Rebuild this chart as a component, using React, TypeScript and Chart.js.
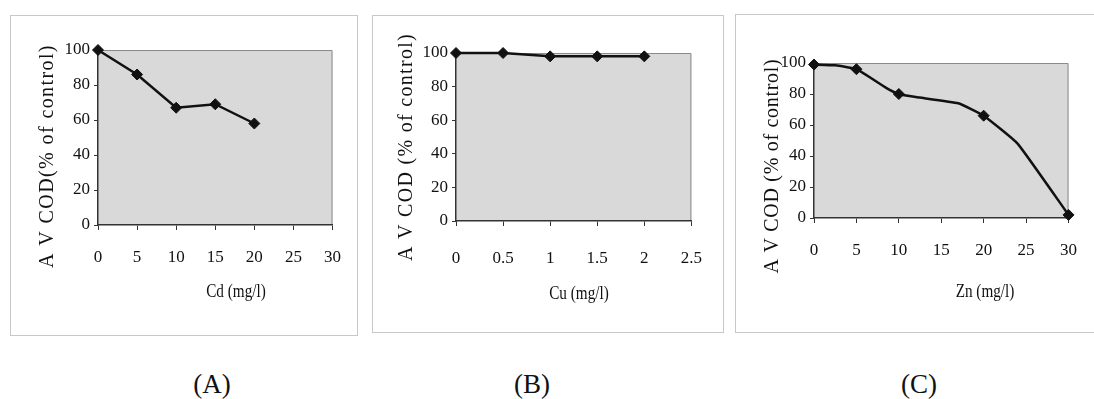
import React, { useEffect, useRef } from "react";
import { Chart, registerables } from "chart.js";

Chart.register(...registerables);

// ---- data ----
const cdDose = [0, 5, 10, 15, 20];
const cdCod = [100, 86, 67, 69, 58];
const cdTicks = [0, 5, 10, 15, 20, 25, 30];

const cuDose = [0, 0.5, 1, 1.5, 2];
const cuCod = [100, 100, 98, 98, 98];
const cuTicks = [0, 0.5, 1, 1.5, 2, 2.5];

const znDose = [0, 5, 10, 20, 30];
const znCod = [99, 96, 80, 66, 2];
// drawn curve of panel C
const znCurveX = [0, 2.5, 5, 8.5, 10, 12, 17, 20, 24, 30];
const znCurveY = [99, 98.5, 96, 84, 80, 78, 74, 66, 48, 2];
const znTicks = [0, 5, 10, 15, 20, 25, 30];

const codTicks = [0, 20, 40, 60, 80, 100];

const captions = ["(A)", "(B)", "(C)"];
const xTitles = ["Cd (mg/l)", "Cu (mg/l)", "Zn (mg/l)"];
const yTitles = ["A V COD(% of control)", "A V COD (% of control)", "A V COD (% of control)"];

const SERIF = "'Liberation Serif', 'Times New Roman', serif";

type PanelSpec = {
  frame: { left: number; top: number; width: number; height: number; noRight?: boolean };
  pad: { top: number; right: number };
  yWidth: number;
  xHeight: number;
  xTickPad: number;
  xMax: number;
  xTicks: number[];
  series: { x: number[]; y: number[]; markers: boolean; line: boolean; tension: number }[];
  xTitle: { text: string; x: number; y: number };
  yTitle: { text: string; x: number; y: number; spacing: number };
};

function toPts(xs: number[], ys: number[]) {
  return xs.map((x, i) => ({ x, y: ys[i] }));
}

function makeDecor(spec: PanelSpec) {
  return {
    id: "panelDecor",
    beforeDraw(chart: any) {
      const { ctx, chartArea: a } = chart;
      ctx.save();
      ctx.fillStyle = "#d9d9d9";
      ctx.fillRect(a.left, a.top, a.right - a.left, a.bottom - a.top);
      ctx.strokeStyle = "#8a8a8a";
      ctx.lineWidth = 1;
      ctx.beginPath();
      ctx.moveTo(a.left, a.top + 0.5);
      ctx.lineTo(a.right - 0.5, a.top + 0.5);
      ctx.lineTo(a.right - 0.5, a.bottom);
      ctx.stroke();
      ctx.restore();
    },
    afterDraw(chart: any) {
      const { ctx } = chart;
      ctx.save();
      ctx.fillStyle = "#111";
      ctx.translate(spec.yTitle.x, spec.yTitle.y);
      ctx.rotate(-Math.PI / 2);
      ctx.font = `20px ${SERIF}`;
      (ctx as any).letterSpacing = `${spec.yTitle.spacing}px`;
      ctx.textAlign = "center";
      ctx.textBaseline = "middle";
      ctx.fillText(spec.yTitle.text, 0, 0);
      ctx.restore();
      ctx.save();
      ctx.fillStyle = "#111";
      ctx.translate(spec.xTitle.x, spec.xTitle.y);
      ctx.scale(0.8, 1);
      ctx.font = `19px ${SERIF}`;
      ctx.textAlign = "center";
      ctx.textBaseline = "middle";
      ctx.fillText(spec.xTitle.text, 0, 0);
      ctx.restore();
    },
  };
}

const panels: PanelSpec[] = [
  {
    frame: { left: 10, top: 15, width: 348, height: 321 },
    pad: { top: 35, right: 25 },
    yWidth: 88,
    xHeight: 111,
    xTickPad: 17,
    xMax: 30,
    xTicks: cdTicks,
    series: [{ x: cdDose, y: cdCod, markers: true, line: true, tension: 0 }],
    xTitle: { text: xTitles[0], x: 226, y: 277 },
    yTitle: { text: yTitles[0], x: 38, y: 141, spacing: 1.4 },
  },
  {
    frame: { left: 372, top: 15, width: 352, height: 318 },
    pad: { top: 38, right: 27 },
    yWidth: 84,
    xHeight: 112,
    xTickPad: 22,
    xMax: 2.5,
    xTicks: cuTicks,
    series: [{ x: cuDose, y: cuCod, markers: true, line: true, tension: 0 }],
    xTitle: { text: xTitles[1], x: 207, y: 279 },
    yTitle: { text: yTitles[1], x: 35, y: 132, spacing: 1.3 },
  },
  {
    frame: { left: 735, top: 14, width: 359, height: 319, noRight: true },
    pad: { top: 49, right: 10 },
    yWidth: 79,
    xHeight: 115,
    xTickPad: 17,
    xMax: 30,
    xTicks: znTicks,
    series: [
      { x: znCurveX, y: znCurveY, markers: false, line: true, tension: 0.12 },
      { x: znDose, y: znCod, markers: true, line: false, tension: 0 },
    ],
    xTitle: { text: xTitles[2], x: 250, y: 278 },
    yTitle: { text: yTitles[2], x: 38, y: 152, spacing: 0.7 },
  },
];

function Panel({ spec }: { spec: PanelSpec }) {
  const ref = useRef<HTMLCanvasElement | null>(null);
  useEffect(() => {
    if (!ref.current) return;
    const tickFont = { family: SERIF, size: 17 };
    const chart = new Chart(ref.current, {
      type: "line",
      data: {
        datasets: spec.series.map((s) => ({
          data: toPts(s.x, s.y),
          borderColor: "#111",
          backgroundColor: "#111",
          borderWidth: 2.5,
          showLine: s.line,
          tension: s.tension,
          pointStyle: "rectRot",
          pointRadius: s.markers ? 5.5 : 0,
          pointBorderWidth: 1,
          pointBackgroundColor: "#111",
          pointBorderColor: "#111",
          clip: false,
        })),
      },
      options: {
        animation: false,
        responsive: false,
        events: [],
        layout: { padding: { left: 0, top: spec.pad.top, right: spec.pad.right, bottom: 0 } },
        plugins: { legend: { display: false }, tooltip: { enabled: false } },
        scales: {
          x: {
            type: "linear",
            min: 0,
            max: spec.xMax,
            afterBuildTicks: (scale: any) => {
              scale.ticks = spec.xTicks.map((v) => ({ value: v }));
            },
            afterFit: (scale: any) => {
              scale.height = spec.xHeight;
            },
            ticks: {
              font: tickFont,
              color: "#111",
              padding: spec.xTickPad,
              autoSkip: false,
              maxRotation: 0,
              callback: (v: any) => String(v),
            },
            grid: { drawOnChartArea: false, drawTicks: true, tickLength: 5, color: "#333" },
            border: { display: true, color: "#333", width: 1.5 },
          },
          y: {
            type: "linear",
            min: 0,
            max: 100,
            afterBuildTicks: (scale: any) => {
              scale.ticks = codTicks.map((v) => ({ value: v }));
            },
            afterFit: (scale: any) => {
              scale.width = spec.yWidth;
            },
            ticks: { font: tickFont, color: "#111", padding: 4, callback: (v: any) => String(v) },
            grid: { drawOnChartArea: false, drawTicks: true, tickLength: 4, color: "#333" },
            border: { display: true, color: "#333", width: 1.5 },
          },
        },
      },
      plugins: [makeDecor(spec)],
    } as any);
    return () => chart.destroy();
  }, [spec]);

  const f = spec.frame;
  return (
    <>
      <div
        style={{
          position: "absolute",
          left: f.left,
          top: f.top,
          width: f.width,
          height: f.height,
          boxSizing: "border-box",
          border: "1px solid #c8c8c8",
          borderRight: f.noRight ? "none" : "1px solid #c8c8c8",
        }}
      />
      <canvas
        ref={ref}
        width={f.width}
        height={f.height}
        style={{ position: "absolute", left: f.left, top: f.top, width: f.width, height: f.height }}
      />
    </>
  );
}

const captionX = [212, 532, 919];

export default function App() {
  return (
    <div
      style={{
        position: "absolute",
        left: 0,
        top: 0,
        width: 1094,
        height: 399,
        overflow: "hidden",
        background: "#fff",
      }}
    >
      {panels.map((p, i) => (
        <Panel key={i} spec={p} />
      ))}
      {captions.map((c, i) => (
        <div
          key={c}
          style={{
            position: "absolute",
            left: captionX[i] - 50,
            top: 369,
            width: 100,
            lineHeight: "30px",
            textAlign: "center",
            fontFamily: SERIF,
            fontSize: 27,
            color: "#111",
          }}
        >
          {c}
        </div>
      ))}
    </div>
  );
}
